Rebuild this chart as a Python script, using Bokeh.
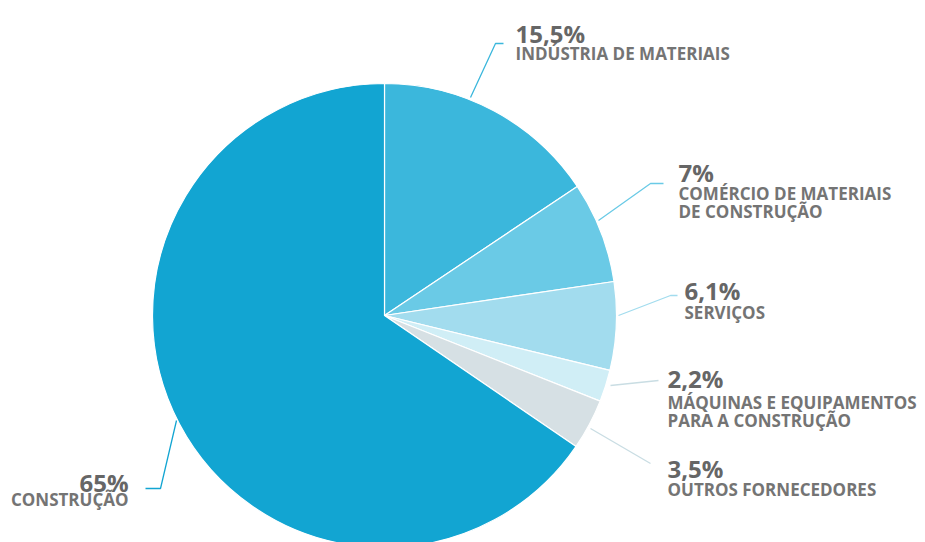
import math
from bokeh.plotting import figure
from bokeh.models import Range1d, ColumnDataSource
from bokeh.core.properties import value
from bokeh.embed import file_html
from bokeh.resources import INLINE

# ---- data (clockwise from 12 o'clock) ----
categories = ["INDÚSTRIA DE MATERIAIS", "COMÉRCIO DE MATERIAIS\nDE CONSTRUÇÃO", "SERVIÇOS",
              "MÁQUINAS E EQUIPAMENTOS\nPARA A CONSTRUÇÃO", "OUTROS FORNECEDORES", "CONSTRUÇÃO"]
values = [15.5, 7.0, 6.1, 2.2, 3.5, 65.0]
pct_labels = ["15,5%", "7%", "6,1%", "2,2%", "3,5%", "65%"]
colors = ["#3bb7dc", "#6acae6", "#a2dcee", "#d0eef6", "#d6e0e4", "#12a5d2"]

# ---- layout (image pixel coordinates) ----
W, H = 925, 542
CX, CY, R = 384, 315, 232
# leader line polylines per slice (image px)
leaders = [
    [(470, 97), (495, 43), (503, 43)],
    [(598, 220), (650, 183), (663, 183)],
    [(618, 315), (670, 295), (677, 295)],
    [(610, 385), (658, 380)],
    [(590, 428), (650, 463)],
    [(176, 420), (160, 488), (145, 488)],
]
# text anchors: x, percent baseline, first label baseline, alignment
text_anchor = [(515, 33, 53, "left"), (678, 172, 193, "left"), (684, 290, 312, "left"),
               (667, 378, 402, "left"), (667, 468, 489, "left"), (128, 482, 499, "right")]
LINE_GAP = 18

def Y(y):
    return H - y

p = figure(width=W, height=H, output_backend="svg", toolbar_location=None,
           x_range=Range1d(0, W), y_range=Range1d(0, H), min_border=0)
p.axis.visible = False
p.grid.visible = False
p.outline_line_color = None
p.background_fill_color = "white"
p.border_fill_color = "white"

total = sum(values)
starts, ends = [], []
cum = 0.0
for v in values:
    a1 = cum / total * 2 * math.pi
    cum += v
    a2 = cum / total * 2 * math.pi
    starts.append(math.pi / 2 - a2)
    ends.append(math.pi / 2 - a1)

src = ColumnDataSource(dict(start=starts, end=ends, color=colors))
p.wedge(x=CX, y=Y(CY), radius=R, start_angle="start", end_angle="end",
        fill_color="color", line_color="white", line_width=1.2, source=src)

for pts, c in zip(leaders, colors):
    lc = c if c not in ("#d0eef6", "#d6e0e4") else "#c9dde3"
    p.line([q[0] for q in pts], [Y(q[1]) for q in pts], line_color=lc, line_width=1.3)

for (tx, ty, ly, al), pl, cat in zip(text_anchor, pct_labels, categories):
    p.text(x=[tx], y=[Y(ty)], text=[pl], text_font=value("Open Sans"),
           text_font_style="bold", text_font_size="24px", text_color="#666666",
           text_align=al, text_baseline="alphabetic")
    for i, line in enumerate(cat.split("\n")):
        p.text(x=[tx], y=[Y(ly + i * LINE_GAP)], text=[line],
               text_font=value("Open Sans"), text_font_style="bold",
               text_font_size="17px", text_color="#747474",
               text_align=al, text_baseline="alphabetic")

open("out.html", "w").write(file_html(p, INLINE))
